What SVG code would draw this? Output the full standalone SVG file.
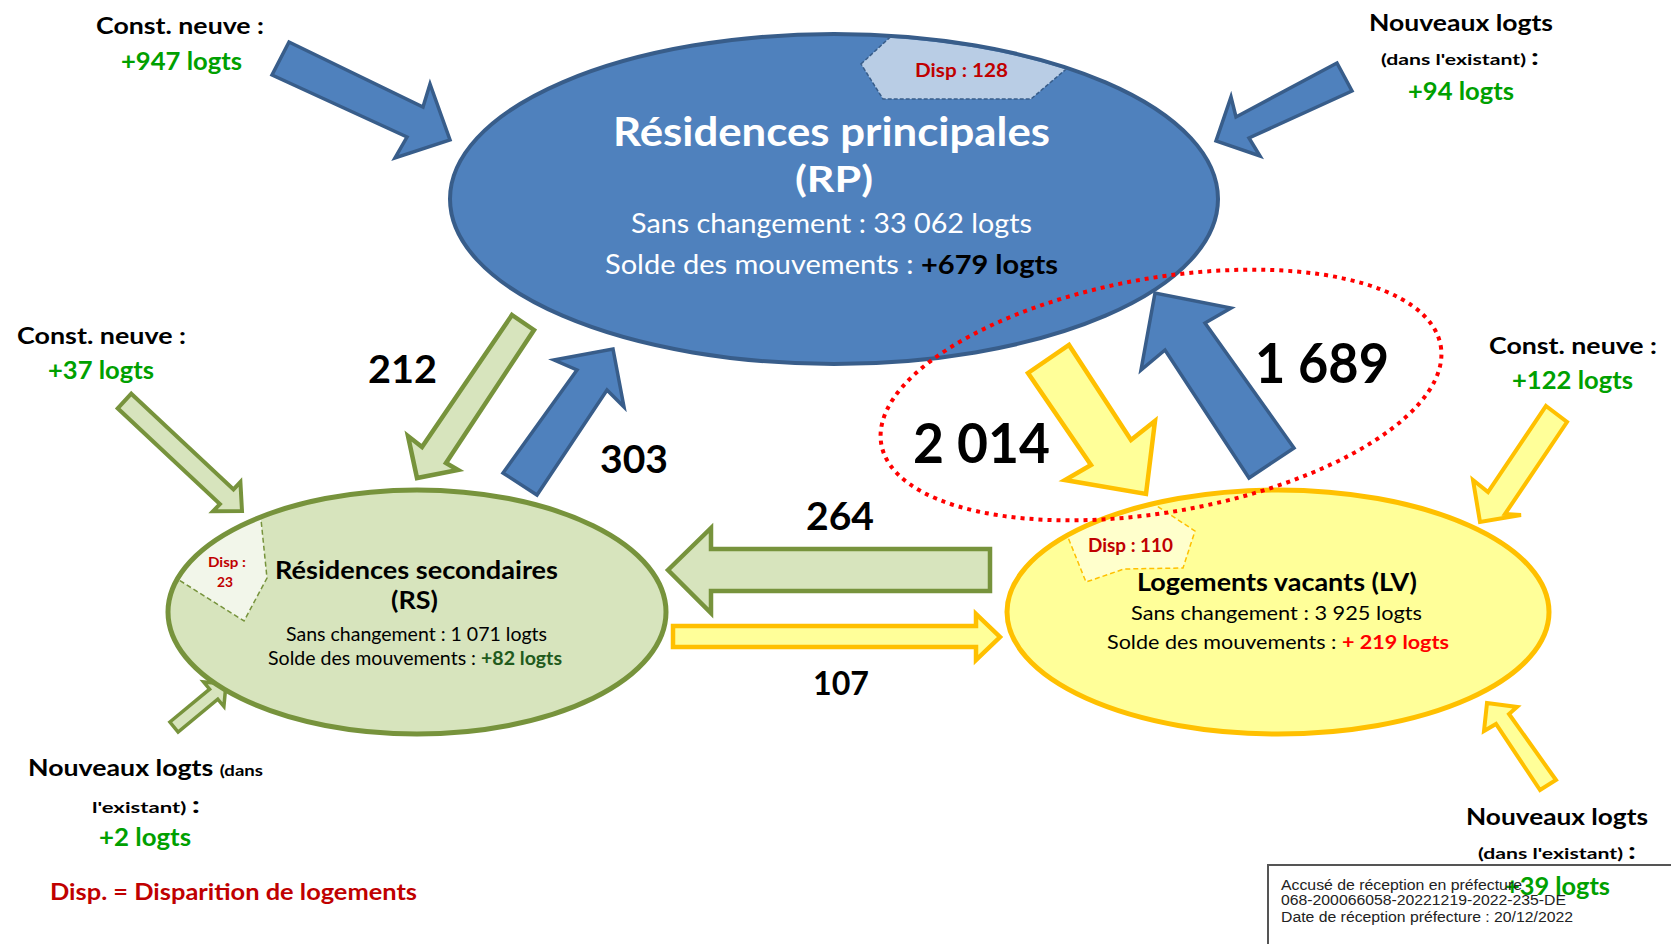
<svg xmlns="http://www.w3.org/2000/svg" width="1671" height="944" viewBox="0 0 1671 944">
<defs>
<style>
text{font-family:Lato,"Open Sans","Liberation Sans",sans-serif}
.b{font-weight:bold}
.blk{fill:#000}
.grn{fill:#00a000}
.red{fill:#c00000}
.wht{fill:#fff}
.arB{fill:#4f81bd;stroke:#385d8a;stroke-width:3.5;stroke-linejoin:miter}
.arG{fill:#d7e4bd;stroke:#77933c;stroke-width:4.5;stroke-linejoin:miter}
.arY{fill:#ffff99;stroke:#ffc000;stroke-width:4.5;stroke-linejoin:miter}
.num{font-weight:bold;fill:#000}
.stamp{font-family:"Liberation Sans",Arial,sans-serif;font-size:14px;fill:#222}
</style>
<clipPath id="cRP"><ellipse cx="834" cy="199" rx="382" ry="163"/></clipPath>
<clipPath id="cRS"><ellipse cx="417" cy="612" rx="247" ry="120"/></clipPath>
<clipPath id="cLV"><ellipse cx="1278" cy="612" rx="269" ry="120"/></clipPath>
</defs>
<rect width="1671" height="944" fill="#fff"/>

<g id="connectors">
<polygon class="arB" points="289,42 423,107 430,84 450,140 395,158 407,137 272,75"/>
<polygon class="arB" points="1337,63 1236,117 1231,97 1216,141 1260,156 1249,138 1352,91"/>
<polygon class="arG" points="512,315 534,330 446,463 458,470 417,478 408,436 422,447"/>
<polygon class="arB" points="503,473 537,495 607,390 624,407 613,349 554,360 577,370"/>
<polygon class="arY" points="1028,373 1069,345 1131,440 1155,421 1146,494 1065,480 1091,465"/>
<polygon class="arB" points="1249,478 1294,448 1205,323 1231,308 1155,293 1141,370 1165,350"/>
<polygon class="arG" points="668,570 711,528 711,549 990,549 990,591 711,591 711,613"/>
<polygon class="arY" points="673,626 976,626 976,614 1000,637 976,660 976,647 673,647"/>
<polygon class="arG" style="stroke-width:4" points="131.3,393.7 233.5,489.4 240.4,482.1 242,511 213,511.3 219.9,504 117.7,408.3"/>
<polygon class="arG" style="stroke-width:3.5" points="169.9,722 209.6,689.2 203.5,681.9 226,684 223.9,706.5 217.8,699.2 178.1,732"/>
<polygon class="arY" style="stroke-width:4" points="1546,406 1567,422 1505,514 1521,515 1480,522 1473,480 1488,492"/>
<polygon class="arY" style="stroke-width:4" points="1540,790 1496,724 1484,731 1487,703 1517,707 1509,714 1556,780"/>
</g>

<g id="node-rp">
<ellipse cx="834" cy="199" rx="384" ry="165" fill="#4f81bd"/>
<polygon clip-path="url(#cRP)" points="861,64 900,28 1085,53 1031,99 883,99" fill="#b9cde5" stroke="#385d8a" stroke-width="1.5" stroke-dasharray="4 2"/>
<ellipse cx="834" cy="199" rx="384" ry="165" fill="none" stroke="#385d8a" stroke-width="4"/>
<text x="915" y="77" class="b red" font-size="19" textLength="93" lengthAdjust="spacingAndGlyphs">Disp : 128</text>
<text x="613" y="146" class="b wht" font-size="40" textLength="437" lengthAdjust="spacingAndGlyphs">Résidences principales</text>
<text x="795" y="192" class="b wht" font-size="37" textLength="78" lengthAdjust="spacingAndGlyphs">(RP)</text>
<text x="631" y="233" class="wht" font-size="26" textLength="401" lengthAdjust="spacingAndGlyphs">Sans changement : 33 062 logts</text>
<text x="605" y="274" class="wht" font-size="26" textLength="453" lengthAdjust="spacingAndGlyphs">Solde des mouvements  : <tspan class="b blk">+679 logts</tspan></text>
</g>

<g id="node-rs">
<ellipse cx="417" cy="612" rx="249" ry="122" fill="#d7e4bd"/>
<polygon clip-path="url(#cRS)" points="258,490 267,578 244,621 179,580 150,560" fill="#f2f6ea" stroke="#77933c" stroke-width="1.5" stroke-dasharray="5 3"/>
<ellipse cx="417" cy="612" rx="249" ry="122" fill="none" stroke="#77933c" stroke-width="5"/>
<text x="208" y="567" class="b red" font-size="13" textLength="38" lengthAdjust="spacingAndGlyphs">Disp :</text>
<text x="217" y="587" class="b red" font-size="13" textLength="16" lengthAdjust="spacingAndGlyphs">23</text>
<text x="275" y="579" class="b blk" font-size="24" textLength="283" lengthAdjust="spacingAndGlyphs">Résidences secondaires</text>
<text x="391" y="609" class="b blk" font-size="24" textLength="47" lengthAdjust="spacingAndGlyphs">(RS)</text>
<text x="286" y="641" class="blk" font-size="19" textLength="261" lengthAdjust="spacingAndGlyphs">Sans changement : 1 071 logts</text>
<text x="268" y="665" class="blk" font-size="19" textLength="294" lengthAdjust="spacingAndGlyphs">Solde des mouvements : <tspan class="b" fill="#215a1c">+82 logts</tspan></text>
</g>

<g id="node-lv">
<ellipse cx="1278" cy="612" rx="271" ry="122" fill="#ffff99"/>
<polygon clip-path="url(#cLV)" points="1063,525 1140,495 1195,531 1183,568 1124,569 1086,582" fill="#ffffcc" stroke="#ffc000" stroke-width="1.5" stroke-dasharray="5 3"/>
<ellipse cx="1278" cy="612" rx="271" ry="122" fill="none" stroke="#ffc000" stroke-width="5"/>
<text x="1088" y="552" class="b red" font-size="18" textLength="85" lengthAdjust="spacingAndGlyphs">Disp : 110</text>
<text x="1137" y="591" class="b blk" font-size="24" textLength="280" lengthAdjust="spacingAndGlyphs">Logements vacants (LV)</text>
<text x="1131" y="620" class="blk" font-size="19" textLength="291" lengthAdjust="spacingAndGlyphs">Sans changement : 3 925 logts</text>
<text x="1107" y="649" class="blk" font-size="19" textLength="342" lengthAdjust="spacingAndGlyphs">Solde des mouvements : <tspan class="b" fill="#ff0000">+ 219 logts</tspan></text>
</g>

<g id="focus-ellipse">
<ellipse cx="1161" cy="395" rx="284" ry="117" transform="rotate(-10 1161 395)" fill="none" stroke="#ff0000" stroke-width="4" stroke-dasharray="4 5"/>
</g>

<g id="flow-labels">
<text x="368" y="383" class="num" font-size="39" textLength="69" lengthAdjust="spacingAndGlyphs">212</text>
<text x="600" y="473" class="num" font-size="39" textLength="68" lengthAdjust="spacingAndGlyphs">303</text>
<text x="913" y="463" class="num" font-size="56" textLength="137" lengthAdjust="spacingAndGlyphs">2 014</text>
<text x="1255" y="383" class="num" font-size="56" textLength="134" lengthAdjust="spacingAndGlyphs">1 689</text>
<text x="806" y="530" class="num" font-size="38" textLength="68" lengthAdjust="spacingAndGlyphs">264</text>
<text x="813" y="695" class="num" font-size="33" textLength="56" lengthAdjust="spacingAndGlyphs">107</text>
</g>

<g id="src-const-rp">
<text x="96" y="34" class="b blk" font-size="23" textLength="168" lengthAdjust="spacingAndGlyphs">Const. neuve :</text>
<text x="121" y="70" class="b grn" font-size="24" textLength="121" lengthAdjust="spacingAndGlyphs">+947 logts</text>
</g>
<g id="src-const-rs">
<text x="17" y="344" class="b blk" font-size="23" textLength="169" lengthAdjust="spacingAndGlyphs">Const. neuve :</text>
<text x="48" y="379" class="b grn" font-size="24" textLength="106" lengthAdjust="spacingAndGlyphs">+37 logts</text>
</g>
<g id="src-const-lv">
<text x="1489" y="354" class="b blk" font-size="23" textLength="168" lengthAdjust="spacingAndGlyphs">Const. neuve :</text>
<text x="1512" y="389" class="b grn" font-size="24" textLength="121" lengthAdjust="spacingAndGlyphs">+122 logts</text>
</g>
<g id="src-new-rp">
<text x="1369" y="31" class="b blk" font-size="23" textLength="184" lengthAdjust="spacingAndGlyphs">Nouveaux logts</text>
<text x="1381" y="65" class="b blk" font-size="16" textLength="158" lengthAdjust="spacingAndGlyphs">(dans l'existant) <tspan font-size="23">:</tspan></text>
<text x="1408" y="100" class="b grn" font-size="24" textLength="106" lengthAdjust="spacingAndGlyphs">+94 logts</text>
</g>
<g id="src-new-rs">
<text x="28" y="776" class="b blk" font-size="23" textLength="235" lengthAdjust="spacingAndGlyphs">Nouveaux logts <tspan font-size="16">(dans</tspan></text>
<text x="92" y="813" class="b blk" font-size="16" textLength="108" lengthAdjust="spacingAndGlyphs">l'existant) <tspan font-size="23">:</tspan></text>
<text x="99" y="846" class="b grn" font-size="24" textLength="92" lengthAdjust="spacingAndGlyphs">+2 logts</text>
</g>
<g id="legend">
<text x="50" y="900" class="b red" font-size="22" textLength="367" lengthAdjust="spacingAndGlyphs">Disp. = Disparition de logements</text>
</g>
<g id="src-new-lv">
<text x="1466" y="825" class="b blk" font-size="23" textLength="182" lengthAdjust="spacingAndGlyphs">Nouveaux logts</text>
<text x="1478" y="859" class="b blk" font-size="16" textLength="158" lengthAdjust="spacingAndGlyphs">(dans l'existant) <tspan font-size="23">:</tspan></text>
<text x="1505" y="895" class="b grn" font-size="24" textLength="105" lengthAdjust="spacingAndGlyphs">+39 logts</text>
</g>

<g id="stamp">
<rect x="1268" y="865" width="430" height="100" fill="none" stroke="#555" stroke-width="2"/>
<text x="1281" y="890" class="stamp" textLength="241" lengthAdjust="spacingAndGlyphs">Accusé de réception en préfecture</text>
<text x="1281" y="905" class="stamp" textLength="285" lengthAdjust="spacingAndGlyphs">068-200066058-20221219-2022-235-DE</text>
<text x="1281" y="922" class="stamp" textLength="292" lengthAdjust="spacingAndGlyphs">Date de réception préfecture : 20/12/2022</text>
</g>
</svg>
